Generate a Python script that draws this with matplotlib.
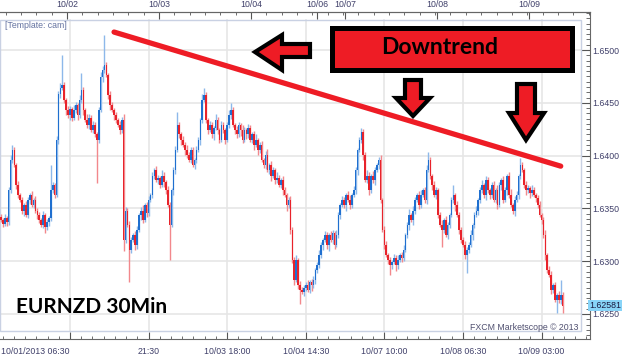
import matplotlib
matplotlib.use("Agg")
import matplotlib.pyplot as plt
import numpy as np
from matplotlib.patches import Polygon, Rectangle
from matplotlib.ticker import FixedLocator, MultipleLocator, FormatStrFormatter
import matplotlib.transforms as mtransforms

# EURNZD 30 min bars, closes in pips above 1.0000 (6339 -> 1.6339)
closes = [
    6339, 6335, 6341, 6337, 6367, 6396, 6405, 6391, 6372, 6363,
    6358, 6348, 6353, 6344, 6358, 6363, 6353, 6358, 6348, 6344,
    6339, 6334, 6344, 6332, 6337, 6341, 6367, 6372, 6363, 6415,
    6458, 6464, 6467, 6453, 6443, 6438, 6444, 6436, 6443, 6448,
    6438, 6453, 6462, 6443, 6434, 6429, 6436, 6424, 6429, 6420,
    6415, 6443, 6474, 6481, 6486, 6476, 6457, 6448, 6443, 6438,
    6434, 6429, 6424, 6434, 6320, 6348, 6334, 6311, 6320, 6325,
    6315, 6330, 6344, 6348, 6339, 6353, 6346, 6358, 6363, 6381,
    6386, 6377, 6379, 6372, 6381, 6375, 6367, 6353, 6334, 6367,
    6386, 6405, 6429, 6420, 6415, 6410, 6405, 6401, 6396, 6405,
    6391, 6396, 6405, 6415, 6434, 6453, 6457, 6434, 6424, 6429,
    6420, 6426, 6434, 6424, 6415, 6429, 6424, 6415, 6429, 6438,
    6443, 6429, 6424, 6420, 6429, 6424, 6415, 6424, 6420, 6426,
    6415, 6420, 6410, 6415, 6405, 6410, 6396, 6391, 6401, 6386,
    6391, 6381, 6386, 6377, 6379, 6372, 6377, 6367, 6363, 6353,
    6358, 6330, 6301, 6282, 6301, 6277, 6273, 6271, 6275, 6277,
    6273, 6280, 6277, 6282, 6292, 6296, 6306, 6315, 6320, 6325,
    6315, 6325, 6320, 6327, 6315, 6325, 6344, 6353, 6358, 6353,
    6363, 6358, 6353, 6363, 6367, 6386, 6405, 6415, 6422, 6401,
    6377, 6381, 6367, 6381, 6377, 6386, 6391, 6396, 6358, 6330,
    6315, 6306, 6301, 6296, 6299, 6303, 6296, 6301, 6306, 6303,
    6311, 6325, 6334, 6344, 6339, 6348, 6358, 6363, 6353, 6363,
    6367, 6358, 6386, 6396, 6381, 6372, 6363, 6367, 6344, 6334,
    6330, 6339, 6325, 6334, 6344, 6358, 6363, 6353, 6344, 6330,
    6320, 6315, 6306, 6311, 6315, 6325, 6334, 6344, 6348, 6358,
    6367, 6372, 6363, 6377, 6367, 6363, 6372, 6358, 6367, 6353,
    6372, 6377, 6358, 6367, 6381, 6363, 6353, 6348, 6358, 6363,
    6381, 6391, 6386, 6372, 6367, 6369, 6365, 6367, 6363, 6360,
    6353, 6344, 6339, 6325, 6306, 6292, 6287, 6273, 6277, 6263,
    6268, 6263, 6268, 6258,
]
first_open = 6342

# wick lengths above / below the body, pips
wick_up = [
    3, 2, 4, 2, 3, 5, 5, 3, 2, 4, 2, 3, 2, 4, 3, 2, 3, 2, 4, 2,
    3, 2, 4, 2, 3, 2, 24, 3, 2, 4, 3, 5, 28, 3, 2, 4, 3, 2, 5, 3,
    2, 4, 16, 3, 2, 5, 3, 2, 4, 3, 2, 3, 5, 4, 28, 3, 2, 4, 3, 2,
    3, 2, 4, 3, 5, 3, 2, 4, 3, 2, 4, 3, 2, 3, 5, 2, 3, 4, 2, 3,
    2, 4, 3, 2, 5, 3, 2, 4, 3, 2, 3, 4, 12, 3, 2, 4, 3, 5, 2, 3,
    3, 2, 4, 3, 2, 5, 7, 3, 2, 4, 3, 2, 5, 3, 2, 4, 3, 2, 3, 5,
    7, 3, 2, 4, 3, 2, 5, 3, 2, 4, 3, 2, 3, 5, 2, 3, 4, 2, 3, 5,
    2, 4, 3, 2, 5, 3, 2, 4, 3, 2, 3, 4, 2, 3, 5, 2, 4, 3, 2, 3,
    5, 2, 3, 4, 2, 3, 5, 3, 2, 4, 3, 2, 4, 3, 2, 5, 3, 2, 4, 3,
    2, 3, 5, 2, 4, 3, 2, 3, 4, 3, 2, 5, 3, 2, 4, 3, 2, 3, 5, 2,
    3, 4, 2, 3, 2, 4, 3, 5, 2, 3, 4, 2, 3, 5, 2, 4, 3, 2, 3, 4,
    2, 3, 5, 7, 3, 2, 4, 3, 2, 3, 5, 2, 4, 3, 2, 3, 9, 2, 4, 3,
    2, 3, 4, 2, 3, 5, 2, 3, 4, 2, 3, 5, 2, 4, 3, 2, 3, 4, 2, 5,
    3, 2, 4, 3, 2, 3, 5, 2, 4, 3, 2, 7, 3, 2, 4, 3, 2, 5, 3, 2,
    3, 4, 2, 3, 5, 2, 3, 4, 2, 3, 2, 4, 14, 3,
]
wick_dn = [
    2, 3, 2, 4, 3, 2, 3, 2, 4, 3, 2, 3, 5, 2, 3, 4, 2, 3, 2, 4,
    3, 2, 3, 5, 2, 4, 3, 2, 3, 2, 4, 3, 2, 3, 5, 2, 4, 3, 2, 3,
    4, 2, 3, 5, 2, 3, 4, 2, 3, 2, 41, 3, 2, 4, 3, 2, 3, 5, 2, 4,
    3, 2, 4, 3, 10, 3, 2, 31, 3, 2, 4, 3, 2, 5, 3, 2, 4, 3, 2, 3,
    3, 2, 4, 3, 2, 5, 3, 2, 33, 2, 4, 3, 2, 3, 5, 2, 4, 3, 2, 3,
    2, 4, 3, 2, 5, 3, 2, 3, 4, 2, 3, 5, 2, 4, 3, 2, 3, 4, 2, 3,
    3, 2, 4, 3, 2, 5, 3, 2, 4, 3, 2, 3, 5, 2, 4, 3, 2, 3, 4, 2,
    3, 5, 2, 4, 3, 2, 3, 4, 2, 5, 3, 4, 3, 5, 2, 3, 14, 2, 4, 3,
    2, 3, 5, 2, 4, 3, 2, 3, 4, 2, 3, 5, 2, 4, 3, 2, 3, 4, 2, 3,
    5, 2, 4, 3, 2, 3, 4, 2, 3, 5, 2, 3, 4, 2, 3, 5, 2, 4, 3, 2,
    3, 2, 4, 9, 3, 2, 5, 3, 2, 4, 3, 2, 3, 4, 2, 5, 3, 2, 4, 3,
    2, 3, 4, 2, 3, 5, 2, 4, 3, 2, 17, 3, 2, 4, 3, 2, 3, 5, 2, 4,
    3, 2, 4, 17, 3, 2, 5, 3, 2, 4, 3, 2, 3, 5, 2, 4, 3, 2, 3, 4,
    2, 5, 3, 2, 4, 3, 2, 3, 5, 2, 4, 3, 2, 3, 4, 2, 5, 3, 2, 4,
    3, 2, 4, 3, 5, 3, 2, 4, 3, 2, 12, 3, 4, 7,
]

day_labels = ['10/02', '10/03', '10/04', '10/06', '10/07', '10/08', '10/09']
day_pos = [34.5, 82.5, 130.5, 165, 179.5, 227.5, 275.5]
time_labels = ['10/01/2013 06:30', '21:30', '10/03 18:00', '10/04 14:30',
               '10/07 10:00', '10/08 06:30', '10/09 03:00']
time_pos = [36, 77, 118, 159, 200, 241, 282]
price_ticks = [1.6250, 1.6300, 1.6350, 1.6400, 1.6450, 1.6500]
last_price = 1.62581
trend_x = [59, 292]
trend_y = [1.6517, 1.6390]

RED = '#ee1c25'
TXT = '#40406a'
W, H = 624, 357
fig = plt.figure(figsize=(W / 100, H / 100), dpi=100)


def fp(x, y):
    # pixel position (from top-left) -> figure fraction
    return (x / W, 1 - y / H)


ax = fig.add_axes([0, (H - 339) / H, 590 / W, (339 - 12) / H])
XMAX = 590 / 1.917 - 0.5
ax.set_xlim(-0.5, XMAX)
ax.set_ylim(1.62263, 1.65360)

n = min(len(closes), len(wick_up), len(wick_dn))
c = 1 + np.array(closes[:n]) / 1e4
o = 1 + np.array([first_open] + closes[:n - 1]) / 1e4
hi = np.maximum(o, c) + np.array(wick_up[:n]) / 1e4
lo = np.minimum(o, c) - np.array(wick_dn[:n]) / 1e4
x = np.arange(n)
up = c >= o
body_col = ['#1f6fcf' if u else '#e8232b' for u in up]
wick_col = ['#8db8ea' if u else '#f2888c' for u in up]

ax.vlines(x, lo, hi, colors=wick_col, lw=1.0, zorder=5)
ax.bar(x, np.maximum(np.abs(c - o), 0.00008), bottom=np.minimum(o, c),
       width=0.85, color=body_col, linewidth=0, zorder=5.5)
ax.plot(trend_x, trend_y, color=RED, lw=3.8, solid_capstyle='round', zorder=6)

# light inner frame and grid
ax.add_patch(Rectangle((0, 8 / 327), 581 / 590, 311 / 327, transform=ax.transAxes,
                       fill=False, ec='#c9d1e3', lw=1, zorder=2))
for p in price_ticks:
    ax.axhline(p, xmax=581 / 590, color='#e6e6e6', lw=1.2, zorder=1)
for t in time_pos:
    ax.axvline(t, ymin=8 / 327, ymax=319 / 327, color='#e6e6e6', lw=1.2, zorder=1)

# right price axis
ax.yaxis.tick_right()
ax.yaxis.set_major_locator(FixedLocator(price_ticks))
ax.yaxis.set_major_formatter(FormatStrFormatter('%.4f'))
ax.yaxis.set_minor_locator(MultipleLocator(0.0005))
ax.tick_params(axis='y', which='major', direction='in', length=6.5, width=0.8,
               color='#555555', pad=2, labelsize=6.3, labelcolor=TXT,
               labelfontfamily='Liberation Sans')
ax.tick_params(axis='y', which='minor', direction='in', length=3, width=0.6,
               color='#555555')

# bottom time axis
ax.set_xticks(time_pos)
ax.set_xticklabels(time_labels)
ax.xaxis.set_minor_locator(FixedLocator(np.arange(time_pos[0] - 41, XMAX, 41 / 7)))
ax.tick_params(axis='x', which='major', direction='in', length=5, width=0.8,
               color='#555555', pad=5.5, labelsize=6.3, labelcolor=TXT,
               labelfontfamily='Liberation Sans')
ax.tick_params(axis='x', which='minor', direction='in', length=2.2, width=0.6,
               color='#555555')
ax.get_xticklabels()[0].set_ha('right')

ax.spines['left'].set_visible(False)
for s in ('top', 'right', 'bottom'):
    ax.spines[s].set_color('#666666')
    ax.spines[s].set_linewidth(0.8)

# top date axis
ax_top = ax.twiny()
ax_top.patch.set_visible(False)
ax_top.set_xlim(ax.get_xlim())
ax_top.set_xticks(day_pos)
ax_top.set_xticklabels(day_labels)
ax_top.xaxis.set_minor_locator(FixedLocator(np.arange(2.5, XMAX, 8)))
ax_top.tick_params(axis='x', which='major', direction='in', length=5, width=0.8,
                   color='#555555', pad=2.5, labelsize=6.3, labelcolor=TXT,
                   labelfontfamily='Liberation Sans')
ax_top.tick_params(axis='x', which='minor', direction='in', length=2.2, width=0.6,
                   color='#555555')
for s in ('left', 'right', 'bottom'):
    ax_top.spines[s].set_visible(False)
ax_top.spines['top'].set_color('#666666')
ax_top.spines['top'].set_linewidth(0.8)

# current price tag
tag_tr = mtransforms.blended_transform_factory(ax.transAxes, ax.transData)
ax.text(589 / 590, last_price, f'{last_price:.5f}', transform=tag_tr,
        ha='left', va='center', fontsize=6.3, color='#1a1a40',
        family='Liberation Sans', clip_on=False, zorder=10,
        bbox=dict(boxstyle='square,pad=0.12', fc='#88d4f8', ec='none'))

# texts
fig.text(*fp(5, 25.5), '[Template: cam]', ha='left', va='center',
         fontsize=6.3, color='#6472a0', family='Liberation Sans')
fig.text(*fp(579, 330), 'FXCM Marketscope \u00a9 2013', ha='right',
         va='baseline', fontsize=6.3, color='#505070', family='Liberation Sans')
fig.text(*fp(16, 313), 'EURNZD 30Min', ha='left', va='baseline',
         fontsize=15, fontweight='bold', family='Lato', color='black')

# Downtrend box and arrows
box = Rectangle(fp(331.5, 69.5), 240 / W, 41 / H, transform=fig.transFigure,
                fc=RED, ec='black', lw=3.6, joinstyle='miter', zorder=5)
fig.add_artist(box)
fig.text(*fp(440, 54), 'Downtrend', ha='center', va='baseline', fontsize=16.5,
         fontweight='bold', family='Lato', color='black', zorder=6)

arrows = [
    [(255, 52), (282, 35), (282, 44), (310, 44), (310, 57), (282, 57), (282, 70)],
    [(405, 80), (421, 80), (421, 98), (430, 98), (413, 116), (396, 98), (405, 98)],
    [(517, 84), (535, 84), (535, 113), (544, 113), (526, 140), (509, 113), (517, 113)],
]
for pts in arrows:
    fig.add_artist(Polygon([fp(px, py) for px, py in pts], closed=True,
                           transform=fig.transFigure, fc=RED, ec='black',
                           lw=3, joinstyle='miter', zorder=5))

fig.savefig('out.png', dpi=100)
